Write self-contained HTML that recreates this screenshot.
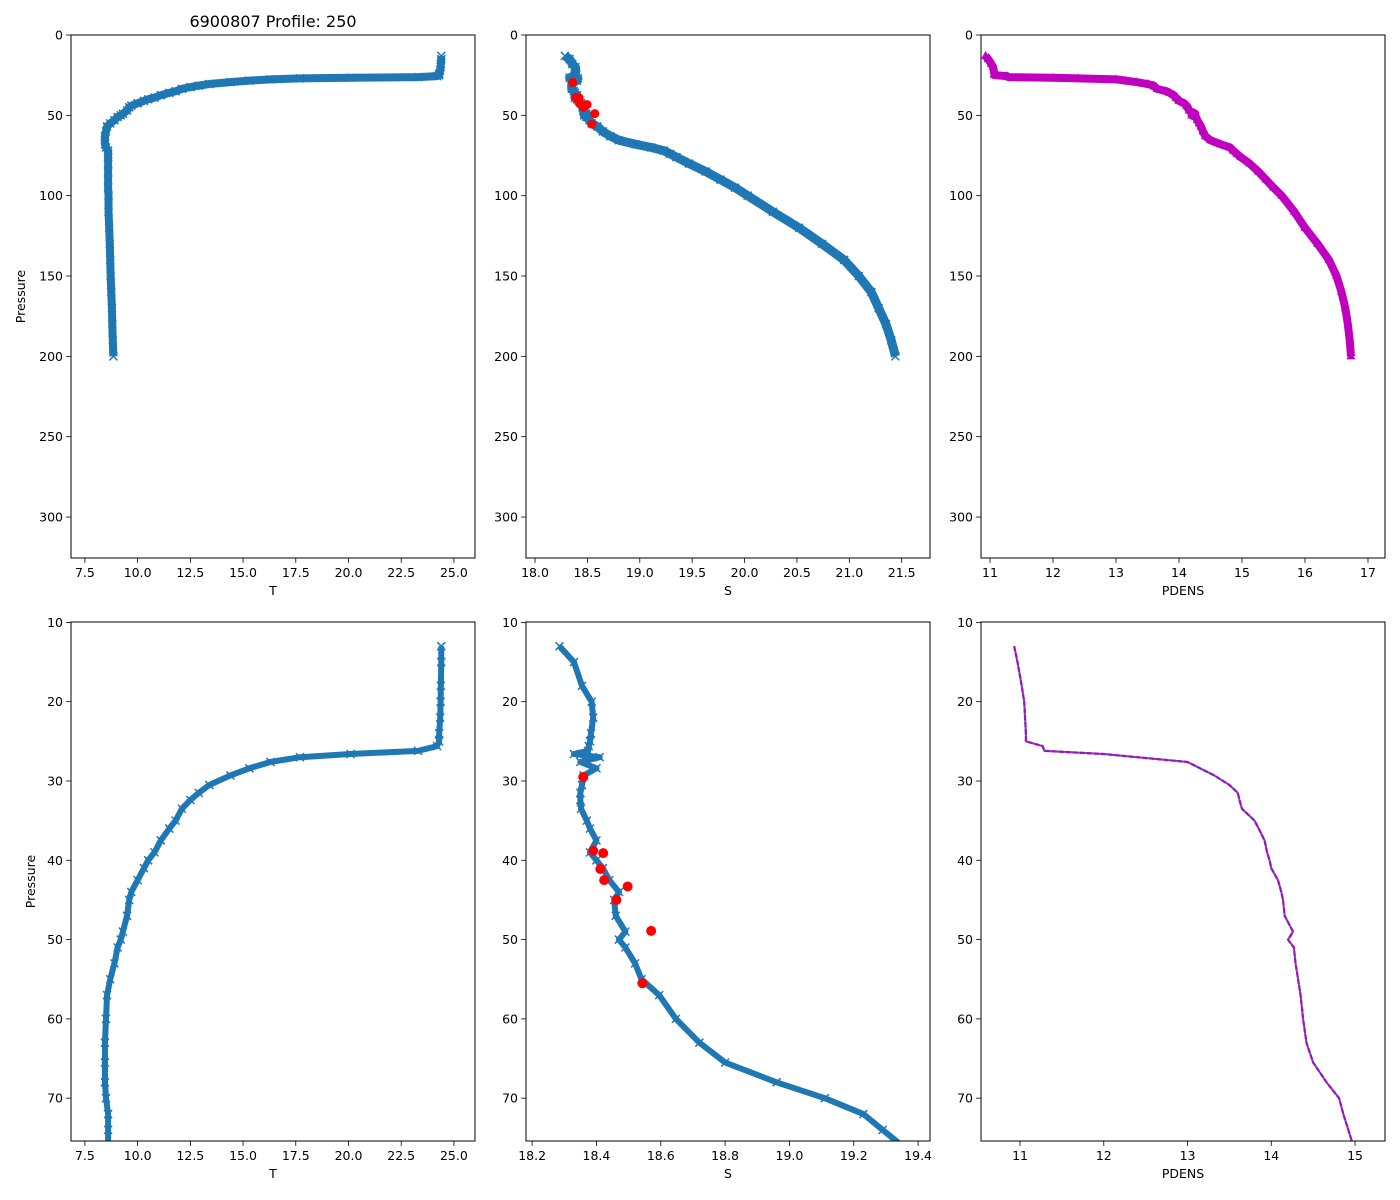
<!DOCTYPE html>
<html><head><meta charset="utf-8"><style>
html,body{margin:0;padding:0;width:1400px;height:1200px;background:#fff;overflow:hidden;font-family:"Liberation Sans","DejaVu Sans",sans-serif;}
svg{display:block;position:absolute;left:0;top:0;}
svg text{font-family:"DejaVu Sans","Liberation Sans",sans-serif;}
</style></head><body>
<svg id="fig" width="1400" height="1200" xmlns="http://www.w3.org/2000/svg">
<rect width="1400" height="1200" fill="#fff"/>
<text x="273" y="27" font-size="16" text-anchor="middle">6900807 Profile: 250</text>
</svg>
<script>
const pressure=[13,15,18,20,22,24,25,25.6,26.2,26.6,27,27.6,28.4,29.3,30.5,31.5,32.4,33.5,35,36,37.5,39,40,41,42.5,44,45,47,49,50,51,53,55,57,60,63,65.5,68,70,72,74,76,80,85,90,95,100,110,120,130,140,150,160,170,180,190,200];
const temperature=[24.4,24.4,24.38,24.37,24.35,24.3,24.3,24.2,23.3,20.1,17.7,16.3,15.3,14.4,13.4,12.9,12.5,12.1,11.8,11.5,11.1,10.8,10.5,10.3,10.0,9.7,9.6,9.5,9.3,9.2,9.05,8.9,8.7,8.55,8.5,8.45,8.45,8.45,8.5,8.6,8.6,8.6,8.6,8.6,8.6,8.6,8.62,8.62,8.65,8.68,8.7,8.72,8.75,8.78,8.8,8.82,8.85];
const salinity=[18.285,18.33,18.355,18.385,18.39,18.383,18.38,18.376,18.374,18.33,18.41,18.35,18.40,18.36,18.355,18.35,18.35,18.352,18.37,18.38,18.40,18.38,18.40,18.42,18.44,18.47,18.455,18.46,18.49,18.47,18.49,18.52,18.54,18.595,18.647,18.72,18.80,18.96,19.11,19.23,19.29,19.35,19.47,19.63,19.77,19.91,20.03,20.27,20.52,20.74,20.95,21.09,21.21,21.28,21.35,21.40,21.44];
const pdens=[10.93,10.97,11.02,11.05,11.06,11.07,11.07,11.27,11.29,12.0,12.4,13.0,13.15,13.32,13.5,13.6,13.62,13.65,13.8,13.85,13.92,13.95,13.98,14.0,14.08,14.12,14.14,14.16,14.26,14.2,14.27,14.29,14.32,14.35,14.38,14.42,14.5,14.66,14.81,14.86,14.92,14.98,15.12,15.26,15.38,15.5,15.63,15.83,16.0,16.2,16.38,16.5,16.58,16.64,16.68,16.71,16.73];
const flagP=[29.5,38.8,39.1,41.1,42.5,43.3,45.0,48.9,55.5];
const flagS=[18.359,18.39,18.421,18.412,18.424,18.497,18.462,18.57,18.543];
const ticksTop=[0,50,100,150,200,250,300];
const ticksBottom=[10,20,30,40,50,60,70];
const ticksT=[7.5,10,12.5,15,17.5,20,22.5,25];
const ticksSTop=[18,18.5,19,19.5,20,20.5,21,21.5];
const ticksSBottom=[18.2,18.4,18.6,18.8,19.0,19.2,19.4];
const ticksDTop=[11,12,13,14,15,16,17];
const ticksDBottom=[11,12,13,14,15];

const NS='http://www.w3.org/2000/svg';
const fig=document.getElementById('fig');
function mk(tag,attrs,parent){const e=document.createElementNS(NS,tag);for(const k in attrs)e.setAttribute(k,attrs[k]);(parent||fig).appendChild(e);return e;}

function panel(o){
  const g=mk('g',{});
  
  
  const sx=v=>o.x0+(v-o.xd[0])/(o.xd[1]-o.xd[0])*(o.x1-o.x0);
  const sy=v=>o.y0+(v-o.yd[0])/(o.yd[1]-o.yd[0])*(o.y1-o.y0);
  const cid='c'+o.name;
  const cp=mk('clipPath',{id:cid},g);
  mk('rect',{x:o.x0,y:o.y0,width:o.x1-o.x0,height:o.y1-o.y0},cp);
  const dg=mk('g',{'clip-path':'url(#'+cid+')'},g);
  o.draw(dg,sx,sy);
  const frame=mk('rect',{x:o.x0,y:o.y0,width:o.x1-o.x0,height:o.y1-o.y0,fill:'none',stroke:'#000','stroke-width':1},g);
  
  
  o.xt.forEach(t=>{const x=sx(t);
    mk('line',{x1:x,x2:x,y1:o.y1,y2:o.y1+4.9,stroke:'#000','stroke-width':0.8},g);
    const tx=mk('text',{x:x,y:o.y1+19,'font-size':12.5,'text-anchor':'middle'},g);
    tx.textContent=t.toFixed(o.xdec);
    
    });
  o.yt.forEach(t=>{const y=sy(t);
    mk('line',{x1:o.x0,x2:o.x0-4.9,y1:y,y2:y,stroke:'#000','stroke-width':0.8},g);
    const tx=mk('text',{x:o.x0-8,y:y+4.5,'font-size':12.5,'text-anchor':'end'},g);
    tx.textContent=String(t);
    
    });
  const xl=mk('text',{x:(o.x0+o.x1)/2,y:o.y1+37,'font-size':12.5,'text-anchor':'middle'},g);
  xl.textContent=o.xlabel;
  
  
  if(o.ylabel){const yl=mk('text',{x:0,y:0,'font-size':12.5,'text-anchor':'middle',transform:`translate(${o.ylx},${(o.y0+o.y1)/2}) rotate(-90)`},g);
    yl.textContent=o.ylabel;
    
    }
}
const BLUE='#1f77b4',MAG='#bf00bf';
function pts(xs,sx,sy){return xs.map((v,i)=>sx(v)+','+sy(pressure[i])).join(' ');}
function xMarks(g,xs,sx,sy,s,w){xs.forEach((v,i)=>{const x=sx(v),y=sy(pressure[i]);
  const m=mk('path',{d:`M${x-s},${y-s}L${x+s},${y+s}M${x-s},${y+s}L${x+s},${y-s}`,stroke:BLUE,'stroke-width':w,fill:'none'},g);
  
  });}
function line(g,xs,sx,sy,col,w,name,extra){const l=mk('polyline',Object.assign({points:pts(xs,sx,sy),fill:'none',stroke:col,'stroke-width':w,'stroke-linejoin':'round'},extra||{}),g);
  
  return l;}
function flags(g,sx,sy,r){flagS.forEach((v,i)=>{const c=mk('circle',{cx:sx(v),cy:sy(flagP[i]),r:r,fill:'#ff0000'},g);
  
  });}

const TOP={y0:35,y1:558,yd:[0,325.5],yt:ticksTop};
const BOT={y0:622,y1:1141,yd:[9.95,75.4],yt:ticksBottom};
panel(Object.assign({},TOP,{name:'temperature-top',x0:71,x1:475,xd:[6.84,26.0],xt:ticksT,xdec:1,xlabel:'T',ylabel:'Pressure',ylx:25,
  draw:(g,sx,sy)=>{line(g,temperature,sx,sy,BLUE,8,'temperature-line');xMarks(g,temperature,sx,sy,4,1.5);}}));
panel(Object.assign({},TOP,{name:'salinity-top',x0:526,x1:930,xd:[17.914,21.77],xt:ticksSTop,xdec:1,xlabel:'S',
  draw:(g,sx,sy)=>{line(g,salinity,sx,sy,BLUE,9,'salinity-line');xMarks(g,salinity,sx,sy,4,1.5);flags(g,sx,sy,4.5);}}));
panel(Object.assign({},TOP,{name:'pdens-top',x0:981,x1:1385,xd:[10.857,17.27],xt:ticksDTop,xdec:0,xlabel:'PDENS',
  draw:(g,sx,sy)=>{line(g,pdens,sx,sy,BLUE,1.5,'pdens-base-line');
    line(g,pdens,sx,sy,MAG,8,'pdens-line');
    pdens.forEach((v,i)=>{const x=sx(v),y=sy(pressure[i]);const t=mk('path',{d:`M${x},${y-5}L${x+4.5},${y+3}L${x-4.5},${y+3}Z`,fill:MAG},g);
      
      });}}));
panel(Object.assign({},BOT,{name:'temperature-bottom',x0:71,x1:475,xd:[6.84,26.0],xt:ticksT,xdec:1,xlabel:'T',ylabel:'Pressure',ylx:35,
  draw:(g,sx,sy)=>{line(g,temperature,sx,sy,BLUE,6,'temperature-line');xMarks(g,temperature,sx,sy,4,1.5);}}));
panel(Object.assign({},BOT,{name:'salinity-bottom',x0:526,x1:930,xd:[18.181,19.437],xt:ticksSBottom,xdec:1,xlabel:'S',
  draw:(g,sx,sy)=>{line(g,salinity,sx,sy,BLUE,6,'salinity-line');xMarks(g,salinity,sx,sy,4,1.5);flags(g,sx,sy,5);}}));
panel(Object.assign({},BOT,{name:'pdens-bottom',x0:981,x1:1385,xd:[10.534,15.358],xt:ticksDBottom,xdec:0,xlabel:'PDENS',
  draw:(g,sx,sy)=>{line(g,pdens,sx,sy,BLUE,2,'pdens-line-blue');line(g,pdens,sx,sy,MAG,2.2,'pdens-line-dashed',{'stroke-dasharray':'5,2'});}}));
</script>
</body></html>
